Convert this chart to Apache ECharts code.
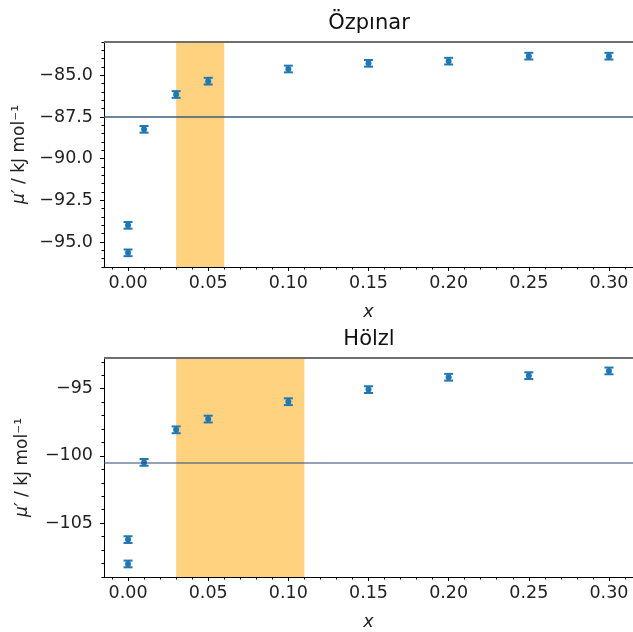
<!DOCTYPE html>
<html>
<head>
<meta charset="utf-8">
<script src="https://cdn.jsdelivr.net/npm/echarts@6/dist/echarts.min.js"></script>
<style>html,body{margin:0;padding:0;background:#fff}#c{width:633px;height:632px}</style>
</head>
<body>
<div id="c"></div>
<script>
// ---- data ----
const xTop = [0.00, 0.00, 0.01, 0.03, 0.05, 0.10, 0.15, 0.20, 0.25, 0.30];
const yTop = [-94.0, -95.65, -88.24, -86.15, -85.35, -84.62, -84.28, -84.15, -83.85, -83.85];
const errTop = [0.2, 0.2, 0.2, 0.2, 0.2, 0.2, 0.2, 0.2, 0.2, 0.2];

const xBot = [0.00, 0.00, 0.01, 0.03, 0.05, 0.10, 0.15, 0.20, 0.25, 0.30];
const yBot = [-106.22, -108.03, -100.48, -98.06, -97.26, -95.97, -95.07, -94.15, -94.03, -93.68];
const errBot = [0.25, 0.25, 0.25, 0.25, 0.25, 0.25, 0.25, 0.25, 0.25, 0.25];

const titles = ['Özpınar', 'Hölzl'];
const bandTop = [0.03, 0.06];
const bandBot = [0.03, 0.11];
const refTop = -87.5;
const refBot = -100.5;

const xMajor = [0.00, 0.05, 0.10, 0.15, 0.20, 0.25, 0.30];
const xMinor = [-0.01, 0.01, 0.02, 0.03, 0.04, 0.06, 0.07, 0.08, 0.09, 0.11, 0.12, 0.13, 0.14,
  0.16, 0.17, 0.18, 0.19, 0.21, 0.22, 0.23, 0.24, 0.26, 0.27, 0.28, 0.29, 0.31];
const yTopMajor = [-95.0, -92.5, -90.0, -87.5, -85.0];
const yTopMinor = [-96.5, -96.0, -95.5, -94.5, -94.0, -93.5, -93.0, -92.0, -91.5, -91.0, -90.5,
  -89.5, -89.0, -88.5, -88.0, -87.0, -86.5, -86.0, -85.5, -84.5, -84.0, -83.5, -83.0];
const yBotMajor = [-105, -100, -95];
const yBotMinor = [-109, -108, -107, -106, -104, -103, -102, -101, -99, -98, -97, -96, -94, -93];

// ---- layout / style ----
const FONT = '"DejaVu Sans", sans-serif';
const FS = 17.5;
const BLUE = '#1f77b4';
const xRange = [-0.015, 0.315];
const yTopRange = [-96.5, -83.0];
const yBotRange = [-109.0, -92.72];
const grids = [
  {left: 104, top: 42, width: 530, height: 225},
  {left: 104, top: 358, width: 530, height: 224}
];

const minus = s => s.replace('-', '\u2212');

function xAxes(gi) {
  return [
    {gridIndex: gi, type: 'value', min: xRange[0], max: xRange[1], position: 'bottom',
     axisLine: {show: true, onZero: false, lineStyle: {color: '#000', width: 1}},
     axisTick: {show: true, length: 4, customValues: xMajor, lineStyle: {color: '#000', width: 1}},
     axisLabel: {customValues: xMajor, formatter: v => v.toFixed(2), fontSize: FS, color: '#222',
                 fontFamily: FONT, margin: 7},
     splitLine: {show: false},
     name: 'x', nameLocation: 'middle', nameGap: 36,
     nameTextStyle: {fontStyle: 'italic', fontSize: FS, fontFamily: FONT, color: '#222'}},
    {gridIndex: gi, type: 'value', min: xRange[0], max: xRange[1], position: 'bottom',
     axisLine: {show: false, onZero: false},
     axisTick: {show: true, length: 2.5, customValues: xMinor, lineStyle: {color: '#000', width: 1}},
     axisLabel: {show: false}, splitLine: {show: false}}
  ];
}
function yAxes(gi, range, major, minor, dec, gap) {
  return [
    {gridIndex: gi, type: 'value', min: range[0], max: range[1], position: 'left',
     axisLine: {show: true, onZero: false, lineStyle: {color: '#000', width: 1}},
     axisTick: {show: true, length: 4, customValues: major, lineStyle: {color: '#000', width: 1}},
     axisLabel: {customValues: major, formatter: v => minus(v.toFixed(dec)), fontSize: FS, color: '#222',
                 fontFamily: FONT, margin: 11},
     splitLine: {show: false},
     name: '{i|\u03bc\u2032} / kJ mol\u207b\u00b9', nameLocation: 'middle', nameGap: gap, nameRotate: 90,
     nameTextStyle: {fontSize: 17, fontFamily: FONT, color: '#222',
                     rich: {i: {fontStyle: 'italic', fontSize: 17, fontFamily: FONT, color: '#222'}}}},
    {gridIndex: gi, type: 'value', min: range[0], max: range[1], position: 'left',
     axisLine: {show: false, onZero: false},
     axisTick: {show: true, length: 2.5, customValues: minor, lineStyle: {color: '#000', width: 1}},
     axisLabel: {show: false}, splitLine: {show: false}}
  ];
}

function errRender(params, api) {
  const x = api.value(0), y = api.value(1), e = api.value(2);
  const p = api.coord([x, y]);
  const t = api.coord([x, y + e]);
  const b = api.coord([x, y - e]);
  const hw = 4.5;
  return {type: 'group', children: [
    {type: 'line', shape: {x1: p[0], y1: t[1], x2: p[0], y2: b[1]}, style: {stroke: BLUE, lineWidth: 1.5}},
    {type: 'line', shape: {x1: p[0] - hw, y1: t[1], x2: p[0] + hw, y2: t[1]}, style: {stroke: BLUE, lineWidth: 2}},
    {type: 'line', shape: {x1: p[0] - hw, y1: b[1], x2: p[0] + hw, y2: b[1]}, style: {stroke: BLUE, lineWidth: 2}},
    {type: 'circle', shape: {cx: p[0], cy: p[1], r: 3}, style: {fill: BLUE}}
  ]};
}

function seriesFor(gi, xs, ys, es, band, ref, yMax, refWidth) {
  const xi = gi * 2, yi = gi * 2;
  return [
    {type: 'line', xAxisIndex: xi, yAxisIndex: yi, data: [], z: 1, silent: true,
     markArea: {silent: true, itemStyle: {color: 'rgba(255,165,0,0.5)'},
                data: [[{xAxis: band[0]}, {xAxis: band[1]}]]},
     markLine: {silent: true, symbol: 'none', label: {show: false}, animation: false,
                data: [
                  {yAxis: ref, lineStyle: {color: 'rgba(55,85,125,0.72)', width: refWidth, type: 'solid'}},
                  {yAxis: yMax, lineStyle: {color: '#6e6e6e', width: 2, type: 'solid'}}
                ]}},
    {type: 'custom', xAxisIndex: xi, yAxisIndex: yi, z: 3, renderItem: errRender,
     encode: {x: 0, y: 1},
     data: xs.map((x, i) => [x, ys[i], es[i]])}
  ];
}

const chart = echarts.init(document.getElementById('c'), null, {renderer: 'canvas'});
chart.setOption({
  animation: false,
  backgroundColor: '#fff',
  grid: grids,
  xAxis: [...xAxes(0), ...xAxes(1)],
  yAxis: [...yAxes(0, yTopRange, yTopMajor, yTopMinor, 1, 68), ...yAxes(1, yBotRange, yBotMajor, yBotMinor, 0, 73)],
  graphic: [
    {type: 'text', x: 369, y: 24, style: {text: titles[0], font: '21px ' + FONT, fill: '#111',
      textAlign: 'center', textVerticalAlign: 'middle'}},
    {type: 'text', x: 369, y: 340, style: {text: titles[1], font: '21px ' + FONT, fill: '#111',
      textAlign: 'center', textVerticalAlign: 'middle'}}
  ],
  series: [
    ...seriesFor(0, xTop, yTop, errTop, bandTop, refTop, yTopRange[1], 2),
    ...seriesFor(1, xBot, yBot, errBot, bandBot, refBot, yBotRange[1], 1.5)
  ]
});
</script>
</body>
</html>
